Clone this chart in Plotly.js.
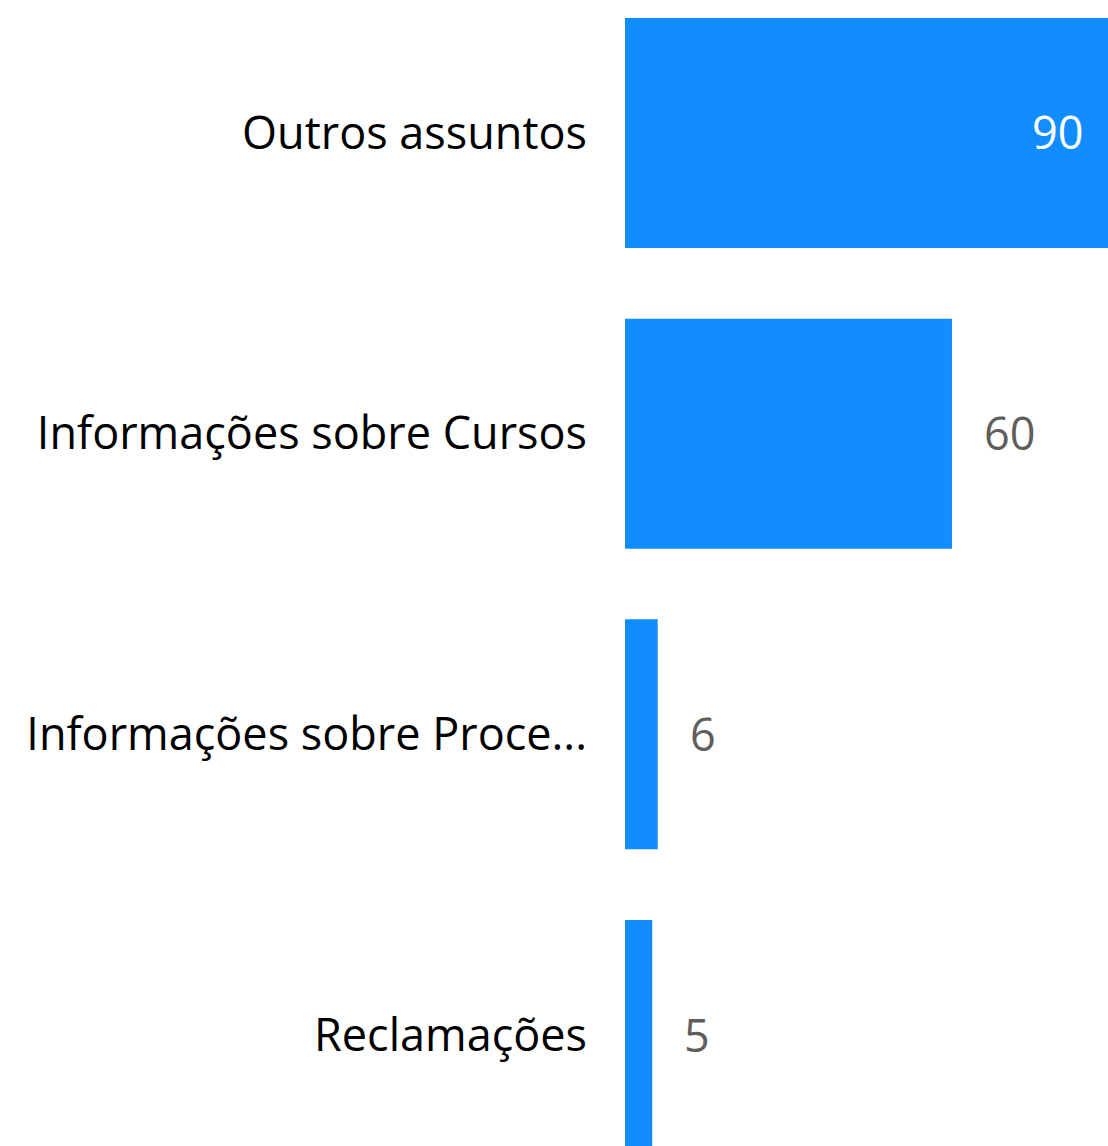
<!DOCTYPE html>
<html>
<head>
<meta charset="utf-8">
<script src="https://cdn.plot.ly/plotly-3.0.1.min.js"></script>
<style>
html,body{margin:0;padding:0;overflow:hidden;background:#fff;}
#chart{width:1116px;height:1146px;}
</style>
</head>
<body>
<div id="chart"></div>
<script>
const categories = ["Outros assuntos", "Informações sobre Cursos", "Informações sobre Proce...", "Reclamações"];
const values = [90, 60, 6, 5];

const barColor = "#118DFF";
const fontFamily = "'Open Sans', 'Noto Sans', sans-serif";
const fontSize = 45;
const maxV = Math.max(...values);

const annotations = categories.map((c, i) => {
  const inside = values[i] > 0.8 * maxV;
  return {
    x: values[i], y: c, xref: "x", yref: "y",
    text: String(values[i]), showarrow: false,
    xanchor: inside ? "right" : "left",
    xshift: inside ? -30 : 30,
    yshift: 1,
    font: {family: fontFamily, size: fontSize, color: inside ? "#FFFFFF" : "#605E5C"}
  };
});

const trace = {
  type: "bar", orientation: "h",
  x: values, y: categories,
  width: 0.765,
  marker: {color: barColor},
  hoverinfo: "none"
};

const layout = {
  width: 1116, height: 1146,
  margin: {l: 625, r: 0, t: 0, b: 0, pad: 0},
  paper_bgcolor: "#fff", plot_bgcolor: "#fff",
  showlegend: false,
  xaxis: {range: [0, 90.1], visible: false, fixedrange: true},
  yaxis: {
    type: "category",
    range: [3.369, -0.4423],
    showgrid: false, zeroline: false, showline: false,
    ticks: "", ticklabelstandoff: 37,
    tickfont: {family: fontFamily, size: fontSize, color: "#000000"},
    automargin: false, fixedrange: true
  },
  annotations: annotations
};

Plotly.newPlot("chart", [trace], layout, {displayModeBar: false, staticPlot: true});
</script>
</body>
</html>
